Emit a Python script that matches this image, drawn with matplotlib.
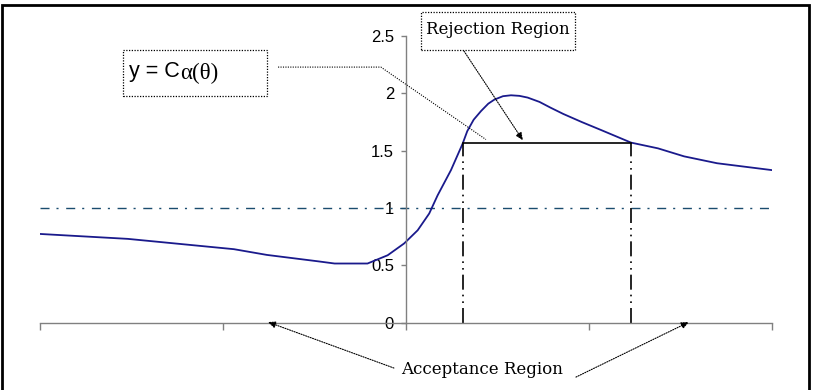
import matplotlib
matplotlib.use("Agg")
import matplotlib.pyplot as plt
from matplotlib.patches import Rectangle

# power-like curve
theta = [-2.0, -1.52, -0.94, -0.76, -0.48, -0.39, -0.21, -0.10, -0.01, 0.064,
         0.127, 0.173, 0.246, 0.31, 0.335, 0.37, 0.41, 0.45, 0.483, 0.53, 0.574,
         0.62, 0.665, 0.73, 0.79, 0.86, 0.96, 1.066, 1.23, 1.377, 1.52, 1.70, 2.0]
c_theta = [0.773, 0.73, 0.64, 0.59, 0.534, 0.515, 0.515, 0.587, 0.69, 0.805,
           0.951, 1.11, 1.33, 1.562, 1.67, 1.77, 1.845, 1.91, 1.945, 1.975, 1.983,
           1.978, 1.963, 1.925, 1.875, 1.82, 1.75, 1.68, 1.57, 1.52, 1.45, 1.39, 1.33]
level = 1.0
c_alpha = 1.57
theta_lo, theta_hi = 0.31, 1.23
x_ticks = [-2, -1, 0, 1, 2]
y_ticks = [0, 0.5, 1, 1.5, 2, 2.5]
y_labels = ["0", "0.5", "1", "1.5", "2", "2.5"]

fig = plt.figure(figsize=(8.16, 3.9), dpi=100)
fig.patches.append(Rectangle((0.0025, -0.02), 0.989, 1.007, transform=fig.transFigure,
                             fill=False, ec="black", lw=2))
ax = fig.add_axes([0.049, 0.173, 0.897, 0.7346])
ax.set_xlim(-2, 2)
ax.set_ylim(0, 2.5)

for s in ["top", "right"]:
    ax.spines[s].set_visible(False)
ax.spines["left"].set_position(("data", 0))
for s in ["left", "bottom"]:
    ax.spines[s].set_color("#808080")
    ax.spines[s].set_linewidth(1)

ax.set_xticks(x_ticks)
ax.set_xticklabels([])
ax.tick_params(axis="x", direction="out", length=5, color="#808080", width=1)
ax.set_yticks(y_ticks)
ax.set_yticklabels(y_labels, fontfamily="Liberation Sans", fontsize=12)
ax.tick_params(axis="y", direction="out", length=3.6, color="#808080", width=1, pad=5)

ax.axhline(level, color="#1a4c6e", lw=1, ls=(0, (6.5, 5, 1.5, 5.5)))
ax.plot(theta, c_theta, color="#1a1a8c", lw=1.3)
ax.plot([theta_lo, theta_hi], [c_alpha, c_alpha], color="black", lw=1.2)
for t in [theta_lo, theta_hi]:
    ax.plot([t, t], [0, c_alpha], color="black", lw=1.2,
            ls=(0, (9, 3, 1, 3, 1, 3)))

dots = (0, (1, 1.2))
# "y = C alpha(theta)" box and its leader
ax.add_patch(Rectangle((-1.546, 1.976), 0.786, 0.402, fill=False, ec="black",
                       lw=0.9, ls=dots, clip_on=False))
t1 = ax.text(-1.514, 2.19, "y = C", fontfamily="Liberation Sans", fontsize=15.5,
             va="center", ha="left")
ax.annotate(r"α(θ)", xy=(1, 0), xycoords=t1, xytext=(0.5, -1.5),
            textcoords="offset points",
            fontfamily="Liberation Serif", fontsize=16.5, va="bottom", ha="left")
ax.plot([-0.699, -0.137, 0.437], [2.229, 2.229, 1.597], color="black", lw=0.8,
        ls=dots, clip_on=False)

# Rejection region label
ax.add_patch(Rectangle((0.082, 2.378), 0.841, 0.331, fill=False, ec="black",
                       lw=0.9, ls=dots, clip_on=False))
ax.text(0.503, 2.555, "Rejection Region", fontfamily="DejaVu Serif", fontsize=12,
        ha="center", va="center")
arrow = dict(arrowstyle="-|>,head_length=0.45,head_width=0.2", color="black",
             lw=0.8, ls=dots, shrinkA=0, shrinkB=0)
ax.annotate("", xy=(0.639, 1.59), xytext=(0.317, 2.369), arrowprops=arrow,
            annotation_clip=False)

# Acceptance region label
ax.text(0.418, -0.414, "Acceptance Region", fontfamily="DejaVu Serif", fontsize=12,
        ha="center", va="center")
ax.annotate("", xy=(-0.754, 0.004), xytext=(-0.066, -0.397), arrowprops=arrow,
            annotation_clip=False)
ax.annotate("", xy=(1.546, 0.004), xytext=(0.929, -0.476), arrowprops=arrow,
            annotation_clip=False)

fig.savefig("out.png", dpi=100)
